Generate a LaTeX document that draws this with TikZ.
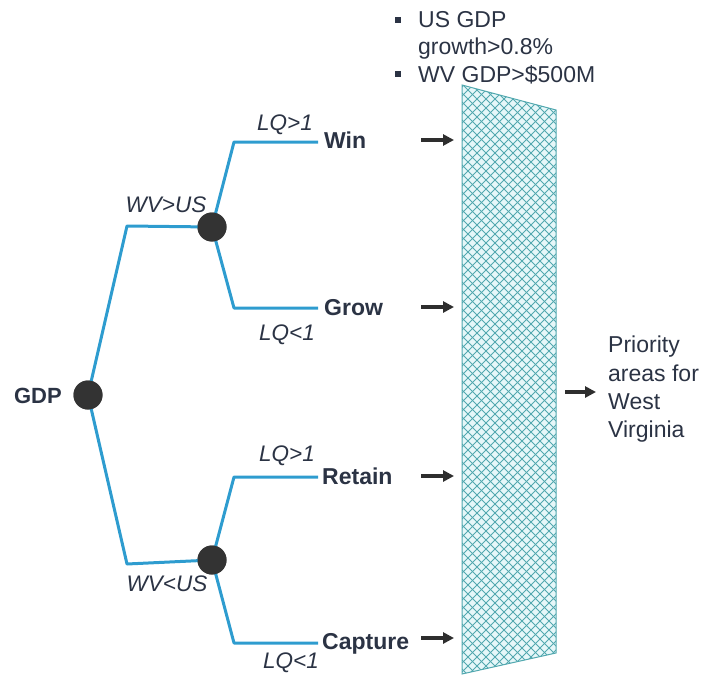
\documentclass[tikz,border=0pt]{standalone}
\usepackage{fontspec}
\setmainfont{Liberation Sans}
\usetikzlibrary{arrows.meta}
\definecolor{branch}{HTML}{2E9CCF}
\definecolor{ink}{HTML}{2B3344}
\definecolor{dot}{HTML}{333333}
\definecolor{hatch}{HTML}{52A8AF}
\definecolor{hatchbg}{HTML}{E6F7F9}
\begin{document}
\begin{tikzpicture}[x=1pt,y=-1pt,
  branchline/.style={draw=branch,line width=3pt,line join=round},
  dotnode/.style={circle,fill=dot,minimum size=29pt,inner sep=0pt},
  leaf/.style={font=\fontsize{23}{27}\selectfont\bfseries,text=ink,inner sep=0pt,anchor=base west},
  cond/.style={font=\fontsize{22.5}{27}\selectfont\itshape,text=ink,inner sep=0pt,anchor=base},
  plain/.style={font=\fontsize{23}{28}\selectfont,text=ink,inner sep=0pt,anchor=base west},
  bullet/.style={fill=ink,minimum size=5.5pt,inner sep=0pt},
  arr/.style={draw=black!82,line width=3.2pt,-{Triangle[length=11pt,width=11pt]}}]
\useasboundingbox (0,0) rectangle (704,677);

% hatched block
\coordinate (t1) at (462,85);
\coordinate (t2) at (556,110);
\coordinate (t3) at (556,653);
\coordinate (t4) at (462,674);
\fill[hatchbg] (t1) -- (t2) -- (t3) -- (t4) -- cycle;
\begin{scope}
\clip (t1) -- (t2) -- (t3) -- (t4) -- cycle;
\foreach \c in {-225,-216,...,480} \draw[hatch,line width=0.85pt] (\c,0) -- ++(700,700);
\foreach \c in {540,549,...,1240} \draw[hatch,line width=0.85pt] (\c,0) -- ++(-700,700);
\end{scope}
\draw[hatch,line width=1pt] (t1) -- (t2) -- (t3) -- (t4) -- cycle;

% tree coordinates
\coordinate (gu) at (127,226);
\coordinate (gl) at (127,564);
\coordinate (uu) at (234,142);
\coordinate (ul) at (234,308);
\coordinate (lu) at (234,477);
\coordinate (ll) at (234,643);

% leaves
\node[leaf] (win) at (324,148) {Win};
\node[leaf] (grow) at (324,315) {Grow};
\node[leaf] (retain) at (322,484) {Retain};
\node[leaf] (capture) at (322,649) {Capture};
\node[font=\fontsize{22}{26}\selectfont\bfseries,text=ink,inner sep=0pt,anchor=base east] (gdplab) at (62,403) {GDP};

% dots
\node[dotnode] (gdp) at (88,395) {};
\node[dotnode] (up) at (212,227) {};
\node[dotnode] (lo) at (212,560) {};

% branches
\draw[branchline] (gdp.center) -- (gu) -- (up.center);
\draw[branchline] (gdp.center) -- (gl) -- (lo.center);
\draw[branchline] (up.center) -- (uu) -- ([xshift=-6pt]uu -| win.west);
\draw[branchline] (up.center) -- (ul) -- ([xshift=-6pt]ul -| grow.west);
\draw[branchline] (lo.center) -- (lu) -- ([xshift=-4pt]lu -| retain.west);
\draw[branchline] (lo.center) -- (ll) -- ([xshift=-4pt]ll -| capture.west);
\node[dotnode] at (gdp) {};
\node[dotnode] at (up) {};
\node[dotnode] at (lo) {};

% condition labels
\node[cond] (c1) at (166,212) {WV>US};
\node[cond] (c2) at (167,591) {WV<US};
\node[cond] (c3) at (285,130) {LQ>1};
\node[cond] (c4) at (287,340) {LQ<1};
\node[cond] (c5) at (287,461) {LQ>1};
\node[cond] (c6) at (291,668) {LQ<1};

% arrows
\coordinate (a1s) at (421,140); \coordinate (a1e) at (454,140);
\coordinate (a2s) at (421,307); \coordinate (a2e) at (454,307);
\coordinate (a3s) at (421,476); \coordinate (a3e) at (454,476);
\coordinate (a4s) at (421,638); \coordinate (a4e) at (454,638);
\coordinate (a5s) at (565,392); \coordinate (a5e) at (596,392);
\draw[arr] (a1s) -- (a1e);
\draw[arr] (a2s) -- (a2e);
\draw[arr] (a3s) -- (a3e);
\draw[arr] (a4s) -- (a4e);
\draw[arr] (a5s) -- (a5e);

% criteria bullets
\node[bullet] (b1) at (398,20) {};
\node[bullet] (b2) at (398,74) {};
\node[plain] (k1) at (418,28) {US GDP};
\node[plain] (k2) at (418,55) {growth>0.8\%};
\node[plain] (k3) at (418,82) {WV GDP>\$500M};

% outcome
\node[plain] (p1) at (608,352) {Priority};
\node[plain] (p2) at (608,381) {areas for};
\node[plain] (p3) at (608,409) {West};
\node[plain] (p4) at (608,437) {Virginia};
\end{tikzpicture}
\end{document}
